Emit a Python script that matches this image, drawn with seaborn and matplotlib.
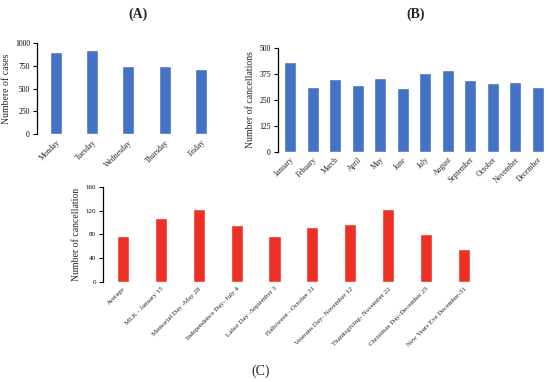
import matplotlib
matplotlib.use("Agg")
import matplotlib.pyplot as plt
import seaborn as sns
import pandas as pd

days = ["Monday", "Tuesday", "Wednesday", "Thursday", "Friday"]
day_cases = [901, 923, 752, 754, 714]

months = ["January", "Febuary", "March", "April", "May", "June", "July",
          "August", "September", "October", "November", "December"]
month_cancel = [435, 311, 350, 322, 355, 308, 380, 394, 347, 334, 338, 311]

holidays = ["Average", "MLK - January 15", "Memorial Day -May 28",
            "Independence Day- July 4", "Labor Day -September 3",
            "Halloween - October 31", "Veterans Day- November 12",
            "Thanksgiving- November 22", "Christmas Day-December 25",
            "New Years Eve December-31"]
holiday_cancel = [78, 107, 122, 96, 78, 93, 98, 122, 80, 56]

sns.set_theme(style="ticks")
plt.rcParams['font.family'] = ['Liberation Serif', 'DejaVu Serif']

BLUE = "#4472C4"
RED = "#EE3124"

fig = plt.figure(figsize=(5.5, 3.82), dpi=100)

axA = fig.add_axes([0.067, 0.649, 0.333, 0.238])
axB = fig.add_axes([0.505, 0.603, 0.495, 0.271])
axC = fig.add_axes([0.187, 0.262, 0.693, 0.249])

def style(ax, cats, ylab, yticks, ylim, nbar, xpad, tick_fs=5.5, lab_fs=7):
    ax.set_xlim(-xpad, nbar - 1 + xpad)
    ax.set_ylim(*ylim)
    ax.set_yticks(yticks)
    ax.set_yticklabels([str(t) for t in yticks], fontsize=tick_fs)
    ax.set_xticks(range(nbar))
    ax.set_xticklabels(cats, rotation=45, ha='right', rotation_mode='anchor',
                       fontsize=tick_fs)
    ax.tick_params(axis='x', length=0, pad=3)
    ax.tick_params(axis='y', length=3, width=0.8, pad=2, colors='black')
    ax.set_ylabel(ylab, fontsize=lab_fs, labelpad=3)
    ax.set_xlabel("")
    for s in ['top', 'right', 'bottom']:
        ax.spines[s].set_visible(False)
    ax.spines['left'].set_linewidth(0.9)
    ax.spines['left'].set_color('black')
    ax.patch.set_alpha(0)

dfA = pd.DataFrame({"day": days, "cases": day_cases})
sns.barplot(data=dfA, x="day", y="cases", color=BLUE, saturation=1,
            width=0.33, ax=axA)
style(axA, days, "Numbere of cases", [0, 250, 500, 750, 1000], (0, 1000), 5, 0.52)

dfB = pd.DataFrame({"month": months, "n": month_cancel})
sns.barplot(data=dfB, x="month", y="n", color=BLUE, saturation=1,
            width=0.53, ax=axB)
style(axB, months, "Number of cancellations", [0, 125, 250, 375, 500], (0, 500), 12, 0.55)

dfC = pd.DataFrame({"holiday": holidays, "n": holiday_cancel})
sns.barplot(data=dfC, x="holiday", y="n", color=RED, saturation=1,
            width=0.32, ax=axC)
style(axC, holidays, "Number of cancellation", [0, 40, 80, 120, 160], (0, 160), 10, 0.53,
      tick_fs=5.0)

fig.text(0.251, 0.963, "(A)", ha='center', va='center', fontsize=10, fontweight='bold')
fig.text(0.755, 0.963, "(B)", ha='center', va='center', fontsize=10, fontweight='bold')
fig.text(0.473, 0.027, "(C)", ha='center', va='center', fontsize=10)

fig.savefig("out.png", dpi=100)
